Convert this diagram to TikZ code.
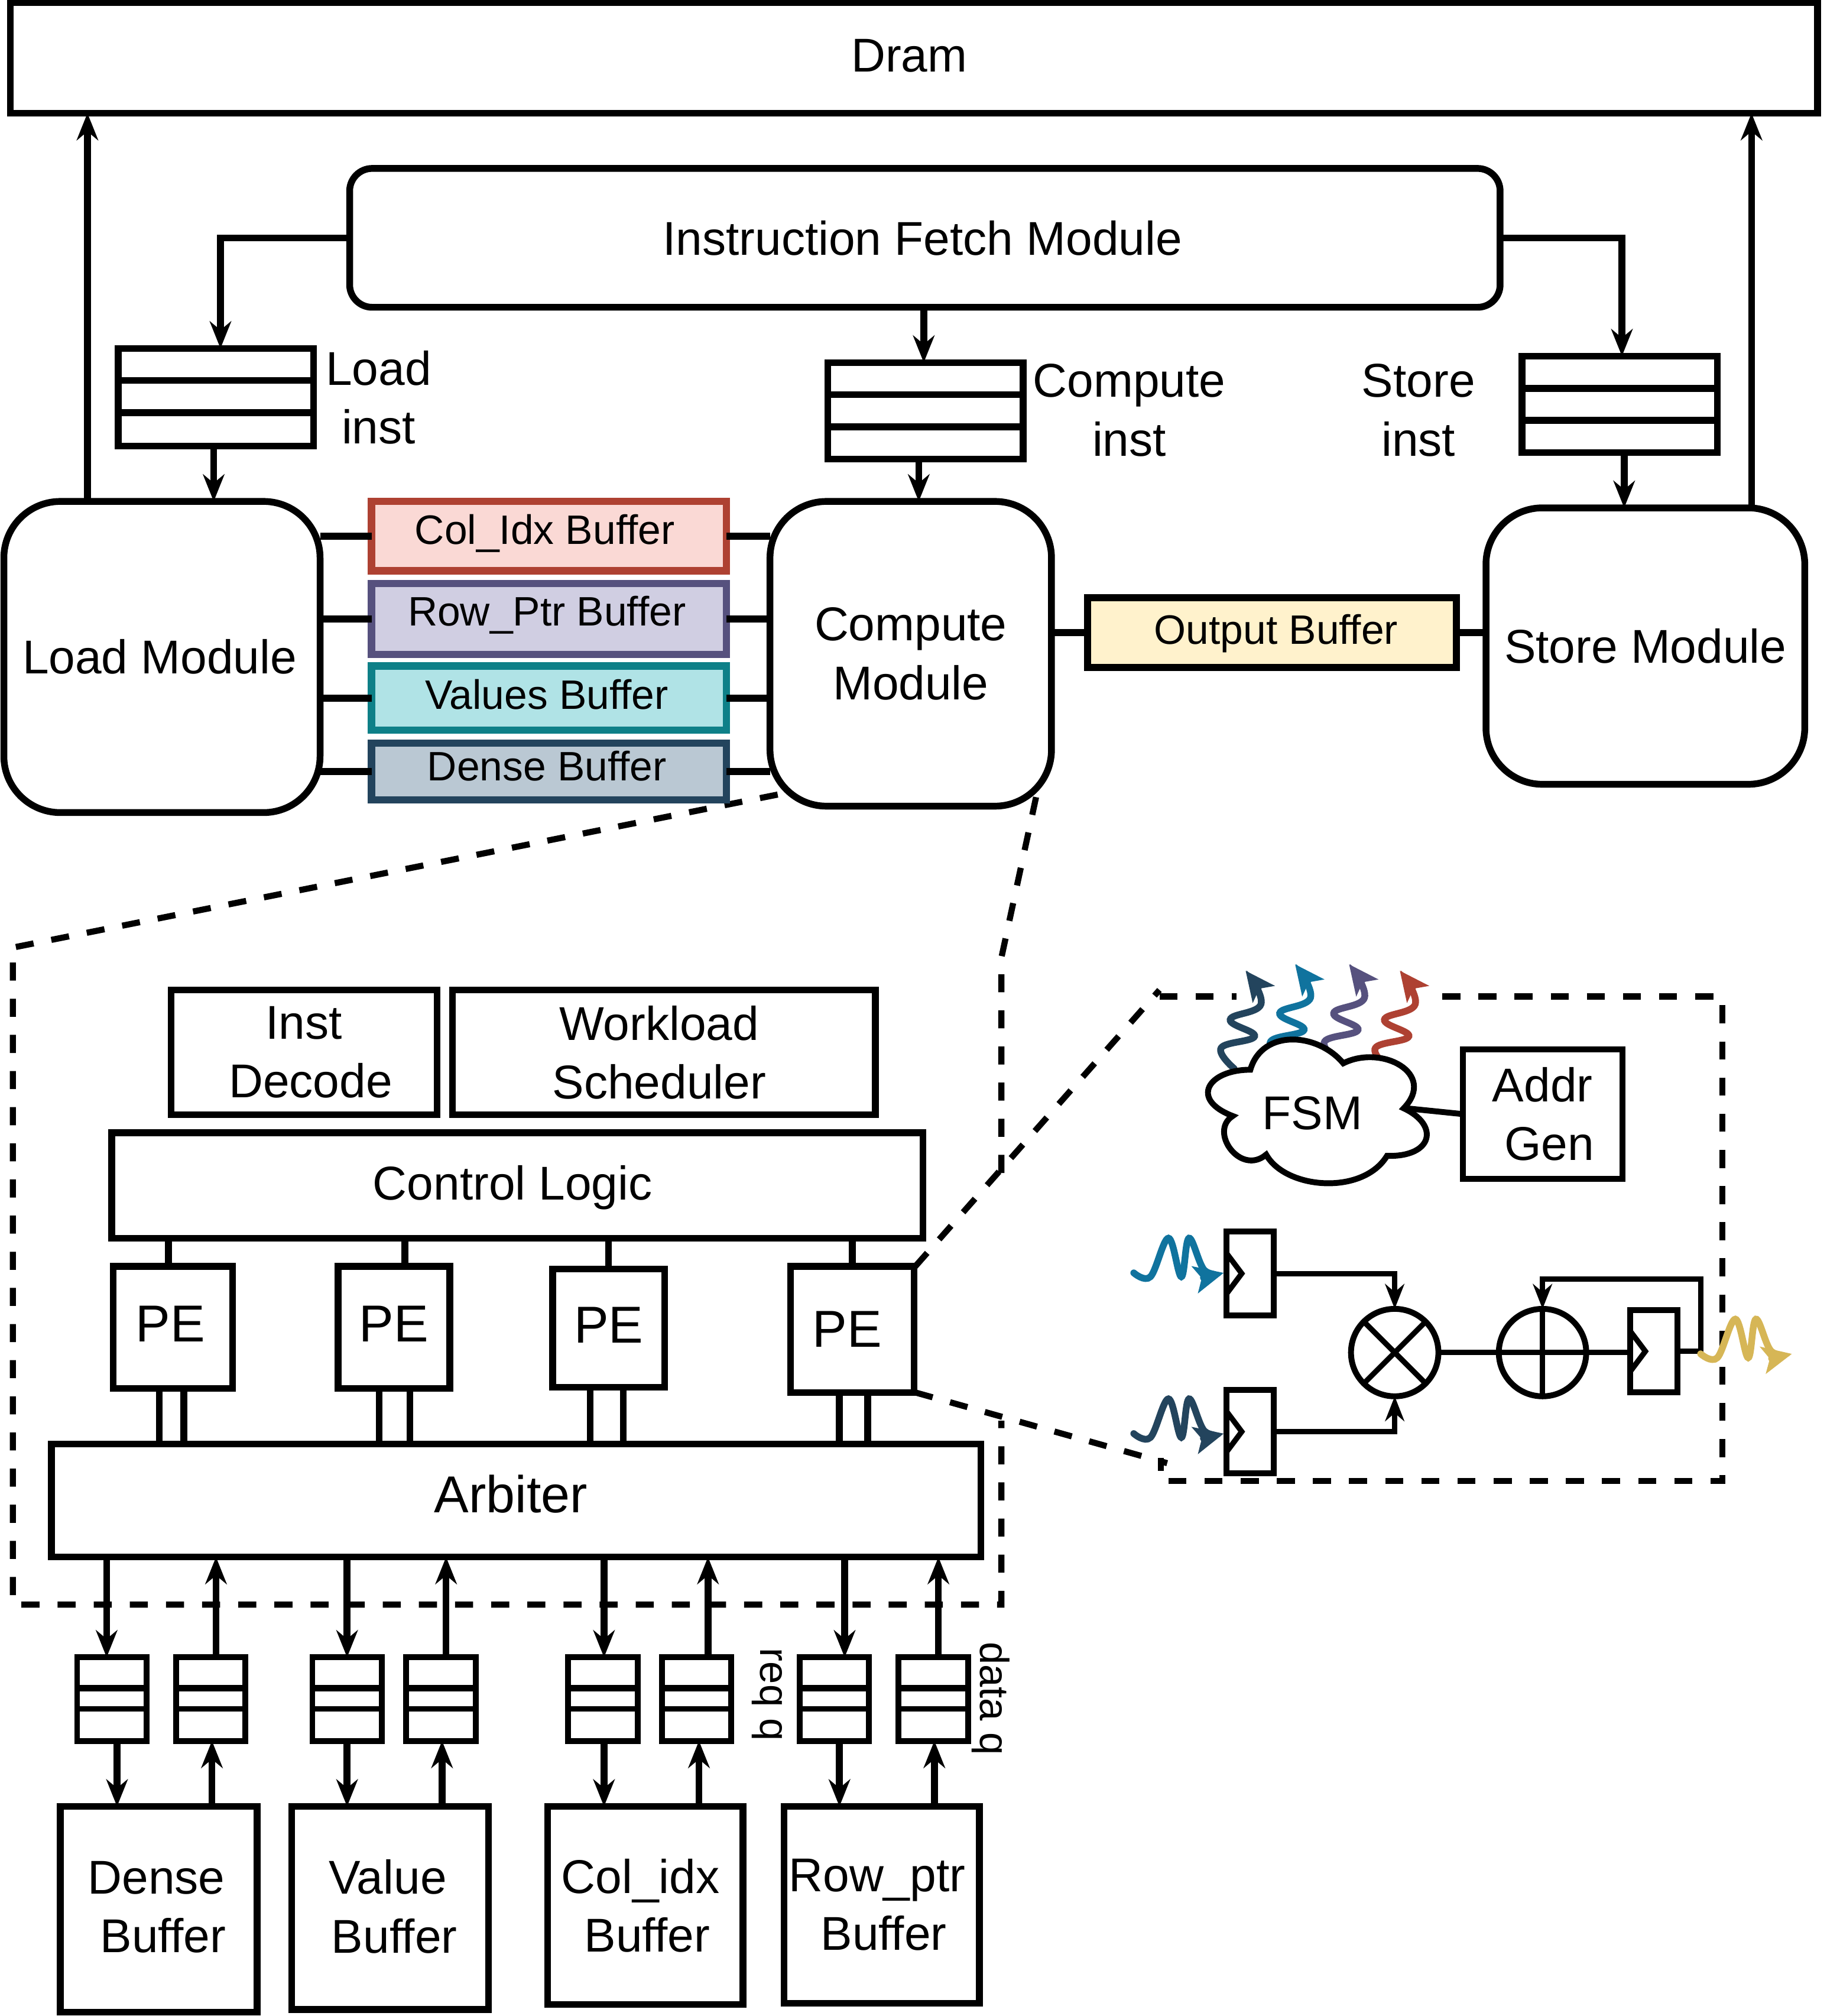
\documentclass[tikz,border=0pt]{standalone}
\usepackage{fontspec}
\setmainfont{Liberation Sans}
\usetikzlibrary{arrows.meta}
\definecolor{pinkfill}{HTML}{FAD9D5}
\definecolor{pinkline}{HTML}{AE4132}
\definecolor{lilacfill}{HTML}{D0CEE2}
\definecolor{lilacline}{HTML}{56517E}
\definecolor{tealfill}{HTML}{B0E3E6}
\definecolor{tealline}{HTML}{0E8088}
\definecolor{slatefill}{HTML}{BAC8D3}
\definecolor{slateline}{HTML}{23445D}
\definecolor{creamfill}{HTML}{FFF2CC}
\definecolor{bluewave}{HTML}{10739E}
\definecolor{goldwave}{HTML}{D6B656}
\newcommand{\lsp}{\hspace*{.28em}}
\newcommand{\tsp}{\hspace*{.2em}}
\newcommand{\hsp}{\hspace*{.1em}}
\tikzset{
	boxsz/.style 2 args={minimum width=#1*0.02cm,minimum height=#2*0.02cm},
	box/.style={draw,line width=3pt,fill=white,inner sep=0pt,outer sep=0pt,align=center,font=\fontsize{21}{26}\selectfont},
	modbox/.style={box,rounded corners=25pt},
	fetchbox/.style={box,rounded corners=10pt},
	bufbox/.style={box,line width=3.2pt,text depth=7pt,font=\fontsize{18.2}{22}\selectfont},
	pebox/.style={box,font=\fontsize{23}{28}\selectfont},
	ffbox/.style={box,line width=2.6pt},
	opcirc/.style={draw,circle,line width=2.6pt,fill=white,minimum size=68*0.02cm,inner sep=0pt,outer sep=0pt},
	lbl/.style={align=center,inner sep=0pt,font=\fontsize{21}{26}\selectfont},
	sidelbl/.style={inner sep=0pt,rotate=-90,font=\fontsize{18}{22}\selectfont},
	conn/.style={line width=3pt},
	arr/.style={line width=3pt,-{Stealth[length=12pt,width=9.5pt]}},
	thinarr/.style={line width=2.4pt,-{Stealth[length=11pt,width=8.5pt]}},
	dsh/.style={line width=2.7pt,dash pattern=on 8pt off 8pt},
	wave/.style={line width=3pt,line cap=round,-{Stealth[length=13pt,width=12pt,inset=3pt]}},
}
\begin{document}
\begin{tikzpicture}[x=0.02cm,y=-0.02cm]
	\useasboundingbox (0,0) rectangle (1421,1568);
	% zoom lines
	\coordinate (cmpsw) at (605,618);
	\coordinate (cmpse) at (806,620);
	\coordinate (pene) at (712,985);
	\coordinate (pese) at (712,1083);
	\draw[dsh] (cmpsw)--(10,737)--(10,1248)--(779,1248)--(779,1105);
	\draw[dsh] (cmpse)--(779,745)--(779,915);
	\draw[dsh] (pene)--(902,770);
	\draw[dsh] (902,775)--(962,775);
	\draw[dsh] (1122,775)--(1340,775)--(1340,1152)--(903,1152)--(903,1134);
	\draw[dsh] (pese)--(908,1138);
	% top level
	\node[box,boxsz={1406}{86},text depth=2.3pt] (dram) at (711,45) {Dram\tsp};
	\node[fetchbox,boxsz={895}{108}] (fetch) at (719.5,185) {Instruction Fetch Module\hsp};
	\node[box,boxsz={152}{76}] (loadq) at (168,309) {};
	\node[box,boxsz={152}{75}] (cmpq) at (720,319.5) {};
	\node[box,boxsz={152}{75}] (storeq) at (1260,314.5) {};
	\foreach \q in {loadq,cmpq,storeq}
		\draw[conn] (\q.north west) ++(0,25) -- ++(152,0) ++(-152,25) -- ++(152,0);
	\node[lbl] (loadlbl) at (294.5,309) {Load\\inst};
	\node[lbl] (cmplbl) at (878.5,319) {Compute\\inst};
	\node[lbl] (storelbl) at (1103.5,319) {Store\\inst};
	\node[modbox,boxsz={246}{242}] (load) at (126,511) {Load Module\hsp};
	\node[modbox,boxsz={219}{237}] (cmp) at (708.5,508.5) {Compute\\Module};
	\node[modbox,boxsz={248}{215}] (store) at (1280,502.5) {Store Module};
	\node[bufbox,boxsz={276}{54},draw=pinkline,fill=pinkfill,text depth=6pt] (colbuf) at (427,417) {Col\_Idx Buffer\tsp};
	\node[bufbox,boxsz={276}{55},draw=lilacline,fill=lilacfill] (rowbuf) at (427,481.5) {Row\_Ptr Buffer\hsp};
	\node[bufbox,boxsz={276}{50},draw=tealline,fill=tealfill,text depth=3.5pt] (valbuf) at (427,543) {Values Buffer\hsp};
	\node[bufbox,boxsz={276}{44},draw=slateline,fill=slatefill,text depth=5pt] (denbuf) at (427,600) {Dense Buffer\hsp};
	\node[bufbox,boxsz={287}{54},text depth=3pt,fill=creamfill] (outbuf) at (989.5,492) {\tsp Output Buffer};
	\foreach \b in {colbuf,rowbuf,valbuf,denbuf}
		\draw[conn] (\b.west) -- (\b.west -| load.east) (\b.east) -- (\b.east -| cmp.west);
	\draw[conn] (outbuf.west) -- (outbuf.west -| cmp.east) (outbuf.east) -- (outbuf.east -| store.west);
	\draw[arr] (fetch.west) -| ([xshift=2pt]loadq.north);
	\draw[arr] (fetch.east) -| ([xshift=1pt]storeq.north);
	\draw[arr] ([xshift=-.5pt]fetch.south) -- ([xshift=-.5pt]fetch.south |- cmpq.north);
	\draw[arr] ([xshift=-1pt]loadq.south) -- ([xshift=-1pt]loadq.south |- load.north);
	\draw[arr] ([xshift=-3pt]cmpq.south) -- ([xshift=-3pt]cmpq.south |- cmp.north);
	\draw[arr] ([xshift=2pt]storeq.south) -- ([xshift=2pt]storeq.south |- store.north);
	\draw[arr] ([xshift=-33pt]load.north) -- ([xshift=-33pt]load.north |- dram.south);
	\draw[arr] ([xshift=47pt]store.north) -- ([xshift=47pt]store.north |- dram.south);
	% compute module inside
	\node[box,boxsz={207}{97}] (decode) at (236.5,818.5) {Inst\\\lsp Decode};
	\node[box,boxsz={329}{97}] (sched) at (516.5,818.5) {Workload\tsp\\Scheduler\tsp};
	\node[box,boxsz={631}{82},text height=17pt] (ctrl) at (402.5,922) {Control Logic\tsp};
	\node[pebox,boxsz={93}{95},text depth=3pt] (pea) at (134.5,1032.5) {PE\hsp};
	\node[pebox,boxsz={87}{95},text depth=3pt] (peb) at (306.5,1032.5) {PE};
	\node[pebox,boxsz={87}{92},text depth=3pt] (pec) at (473.5,1033) {PE};
	\node[pebox,boxsz={96}{98}] (ped) at (663,1034) {PE\tsp};
	\node[pebox,boxsz={723}{88},text depth=6pt] (arb) at (401.5,1167) {Arbiter\tsp};
	\foreach \p/\s/\a/\b in {pea/-2pt/-6pt/4.8pt,peb/4.8pt/-6.5pt/7pt,pec/0pt/-8.2pt/6.5pt,ped/0pt/-5.7pt/6.8pt}{
		\draw[conn] ([xshift=\s]\p.north) -- ([xshift=\s]\p.north |- ctrl.south);
		\draw[conn] ([xshift=\a]\p.south) -- ([xshift=\a]\p.south |- arb.north);
		\draw[conn] ([xshift=\b]\p.south) -- ([xshift=\b]\p.south |- arb.north);
	}
	% memory side
	\node[box,boxsz={153}{160},text depth=2.2pt] (bdense) at (123.5,1485) {Dense\hsp\\\lsp Buffer\hsp};
	\node[box,boxsz={153}{158},text depth=1.5pt] (bvalue) at (303.5,1484) {Value\hsp\\\lsp Buffer\hsp};
	\node[box,boxsz={152}{154}] (bcol) at (502,1482) {Col\_idx\tsp\\\lsp Buffer\tsp};
	\node[box,boxsz={152}{153}] (brow) at (686,1481.5) {Row\_ptr\tsp\\\lsp Buffer\tsp};
	\foreach \q/\x in {dreq/87,ddat/164,vreq/270,vdat/343,creq/469,cdat/542,rreq/649,rdat/726}{
		\node[box,line width=2.6pt,boxsz={54}{65}] (\q) at (\x,1321.5) {};
		\draw[conn] (\q.north west) ++(0,24) -- ++(54,0);
		\draw[line width=2.4pt] (\q.north west) ++(0,40) -- ++(54,0);
	}
	\foreach \q/\u/\l/\b in {dreq/-2.3pt/2.3pt/bdense,vreq/0pt/0pt/bvalue,creq/0.5pt/0.5pt/bcol,rreq/4.6pt/2.3pt/brow}{
		\draw[arr] ([xshift=\u]\q.north |- arb.south) -- ([xshift=\u]\q.north);
		\draw[arr] ([xshift=\l]\q.south) -- ([xshift=\l]\q.south |- \b.north);
	}
	\foreach \q/\u/\l/\b in {ddat/2.3pt/0.5pt/bdense,vdat/2.3pt/0.5pt/bvalue,cdat/5pt/1pt/bcol,rdat/2.3pt/0.5pt/brow}{
		\draw[arr] ([xshift=\u]\q.north) -- ([xshift=\u]\q.north |- arb.south);
		\draw[arr] ([xshift=\l]\q.south |- \b.north) -- ([xshift=\l]\q.south);
	}
	\node[sidelbl] (reqlbl) at (597,1318) {req q};
	\node[sidelbl] (datalbl) at (771,1321) {data q};
	% pe detail
	\foreach \wx/\wy/\c in {960/831/slateline,998.5/826/bluewave,1040.5/826/lilacline,1080/831/pinkline}
		\draw[wave,\c] plot[smooth,tension=.7] coordinates {(\wx,\wy) (\wx-10,\wy-16) (\wx+16,\wy-25) (\wx-3,\wy-38) (\wx+21,\wy-50) (\wx+9,\wy-76)};
	\draw[fill=white,line width=2.6pt] (972.7,832) .. controls (982,800) and (1025,803) .. (1045,827)
		.. controls (1075,812) and (1118,835) .. (1092,862)
		.. controls (1120,875) and (1115,900) .. (1079,899)
		.. controls (1060,930) and (1000,925) .. (985,898)
		.. controls (965,915) and (940,880) .. (959,868)
		.. controls (925,855) and (940,832) .. (972.7,832) -- cycle;
	\node[lbl] (fsm) at (1021,866) {FSM};
	\coordinate (fsmr) at (1094,862);
	\node[box,line width=2.6pt,boxsz={124}{101}] (addr) at (1200,866.5) {Addr\\\lsp Gen};
	\draw[line width=2.6pt] (fsmr) -- (addr.west);
	\node[ffbox,boxsz={37}{65}] (ffa) at (972.5,990.5) {};
	\node[ffbox,boxsz={37}{65}] (ffb) at (972.5,1113.5) {};
	\node[ffbox,boxsz={37}{64}] (ffc) at (1286.5,1051) {};
	\foreach \f in {ffa,ffb,ffc}
		\draw[line width=2.4pt] (\f.west) ++(0,-16) -- ++(12,16) -- ++(-12,16);
	\node[opcirc] (mul) at (1085,1052) {};
	\node[opcirc] (add) at (1200,1052) {};
	\draw[line width=2.4pt] (mul.north west) -- (mul.south east) (mul.north east) -- (mul.south west);
	\draw[line width=2.4pt] (add.north) -- (add.south) (add.west) -- (add.east);
	\draw[thinarr] (ffa.east) -- (mul.north |- ffa.east) -- (mul.north);
	\draw[thinarr] (ffb.east) -- (mul.south |- ffb.east) -- (mul.south);
	\draw[line width=2.4pt] (mul.east) -- (add.west) (add.east) -- (add.east -| ffc.west);
	\coordinate (fbk) at (1323,995);
	\draw[thinarr] (ffc.east) -| (fbk) -| (add.north);
	\foreach \wx/\wy/\c/\tp in {882/990/bluewave/70,882/1115/slateline/70,1323/1053/goldwave/71}
		\draw[wave,\c] plot[smooth,tension=.6] coordinates {(\wx,\wy) (\wx+13,\wy+3) (\wx+27,\wy-27) (\wx+37,\wy+3) (\wx+43,\wy-27) (\wx+55,\wy-2) (\wx+\tp,\wy)};
\end{tikzpicture}
\end{document}
